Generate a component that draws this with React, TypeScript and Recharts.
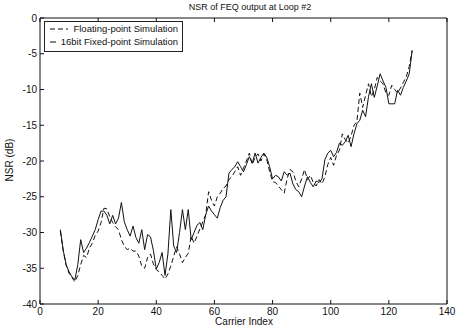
import { LineChart, Line, XAxis, YAxis } from "recharts"

const carrierIdx = [
  7, 8, 9, 10, 11, 12, 13, 14, 15, 16, 17, 18, 19, 20, 21, 22, 23, 24, 25, 26,
  27, 28, 29, 30, 31, 32, 33, 34, 35, 36, 37, 38, 39, 40, 41, 42, 43, 44, 45, 46,
  47, 48, 49, 50, 51, 52, 53, 54, 55, 56, 57, 58, 59, 60, 61, 62, 63, 64, 65, 66,
  67, 68, 69, 70, 71, 72, 73, 74, 75, 76, 77, 78, 79, 80, 81, 82, 83, 84, 85, 86,
  87, 88, 89, 90, 91, 92, 93, 94, 95, 96, 97, 98, 99, 100, 101, 102, 103, 104, 105, 106,
  107, 108, 109, 110, 111, 112, 113, 114, 115, 116, 117, 118, 119, 120, 121, 122, 123, 124, 125, 126,
  127, 128,
]

// 16bit fixed-point (solid)
const fixedNsr = [
  -29.6, -32.5, -34.5, -35.5, -36.2, -36.6, -34.5, -31.0, -32.8, -32.2, -31.4, -30.5, -29.6, -28.2, -27.0, -27.0, -27.6, -28.8, -27.6, -28.8,
  -28.0, -25.8, -28.5, -29.6, -30.5, -29.1, -30.7, -31.5, -29.6, -32.4, -30.3, -30.6, -32.5, -35.1, -34.2, -32.8, -36.0, -33.0, -26.8, -31.9,
  -32.8, -30.0, -26.8, -29.6, -26.8, -31.0, -30.0, -29.0, -28.6, -29.6, -27.5, -26.3, -27.0, -27.5, -28.0, -26.5, -25.5, -25.0, -21.7, -21.2,
  -20.8, -20.1, -20.8, -21.5, -20.5, -19.4, -20.3, -18.9, -20.3, -19.5, -18.9, -19.5, -20.8, -22.5, -22.0, -22.2, -22.8, -21.5, -22.0, -21.7,
  -23.2, -24.0, -24.3, -25.0, -23.5, -22.2, -23.0, -23.6, -22.8, -23.0, -22.5, -19.8, -18.9, -18.5, -19.4, -18.8, -17.5, -17.8, -17.3, -16.4,
  -18.0, -16.2, -14.8, -14.3, -12.9, -13.8, -11.0, -9.2, -11.1, -9.5, -7.8, -8.8, -9.7, -12.0, -12.0, -12.0, -10.1, -10.8, -9.7, -8.8,
  -7.8, -4.6,
]

// floating-point (dashed)
const floatNsr = [
  -29.8, -32.6, -34.6, -35.7, -36.3, -36.9, -36.0, -34.5, -33.2, -33.5, -32.2, -31.5, -30.4, -29.8, -28.6, -26.6, -26.7, -27.8, -28.6, -29.2,
  -29.6, -31.0, -31.9, -32.4, -32.2, -32.6, -32.6, -33.3, -34.7, -35.0, -33.5, -33.0, -34.4, -35.2, -35.5, -36.0, -36.5, -35.8, -34.7, -33.3,
  -32.0, -33.0, -34.2, -33.5, -32.9, -30.5, -31.5, -30.5, -29.5, -28.5, -27.5, -24.3, -25.5, -26.3, -25.0, -24.5, -23.8, -23.5, -22.6, -22.2,
  -21.5, -20.8, -22.0, -21.0, -20.0, -18.9, -20.5, -19.5, -19.0, -20.0, -19.0, -19.8, -21.5, -22.9, -23.0, -23.5, -24.0, -24.5, -22.5, -21.2,
  -21.5, -22.8, -23.6, -22.5, -21.2, -22.6, -22.0, -23.0, -23.5, -22.6, -23.2, -22.2, -20.5, -19.5, -20.6, -19.2, -18.5, -16.2, -17.0, -17.5,
  -16.5, -15.0, -14.5, -10.5, -12.5, -10.8, -9.2, -11.0, -10.0, -8.3, -8.8, -9.2, -10.5, -10.8, -9.4, -10.0, -10.5, -9.8, -9.0, -8.2,
  -6.8, -4.5,
]

const xTicks = [0, 20, 40, 60, 80, 100, 120, 140]
const yTicks = [0, -5, -10, -15, -20, -25, -30, -35, -40]

const seriesNames = ["Floating-point Simulation", "16bit Fixed-point Simulation"]

const data = carrierIdx.map((k, i) => ({
  k,
  floating: floatNsr[i],
  fixed: fixedNsr[i],
}))

const font = "'Liberation Sans', Arial, sans-serif"
const tickStyle = { fontSize: 10, fill: "#111", fontFamily: font }
const textStyle = { fontFamily: font, fontSize: 10, color: "#111" }

function LegendBox() {
  return (
    <div
      style={{
        position: "absolute",
        left: 44,
        top: 21,
        width: 129,
        border: "1px solid #222",
        background: "#fff",
        padding: "0 4px 3px 4px",
        lineHeight: "13px",
        ...textStyle,
        fontSize: 9.5,
      }}
    >
      {seriesNames.map((name, i) => (
        <div key={name} style={{ display: "flex", alignItems: "center" }}>
          <svg width={20} height={8} style={{ marginRight: 5 }}>
            <line
              x1={1}
              y1={4}
              x2={19}
              y2={4}
              stroke="#111"
              strokeWidth={1}
              strokeDasharray={i === 0 ? "5 3" : undefined}
            />
          </svg>
          <span style={{ whiteSpace: "nowrap" }}>{name}</span>
        </div>
      ))}
    </div>
  )
}

export default function App() {
  return (
    <div style={{ position: "absolute", left: 0, top: 0, width: 456, height: 329, background: "#fff" }}>
      <LineChart
        width={456}
        height={329}
        data={data}
        margin={{ top: 17, right: 8, bottom: 0, left: 10 }}
      >
        <XAxis
          dataKey="k"
          type="number"
          domain={[0, 140]}
          ticks={xTicks}
          height={25}
          tickSize={-4}
          tickMargin={8}
          tick={tickStyle}
          stroke="#111"
        />
        <XAxis
          xAxisId="top"
          orientation="top"
          dataKey="k"
          type="number"
          domain={[0, 140]}
          ticks={xTicks}
          height={1}
          tickSize={-4}
          tickFormatter={() => ""}
          stroke="#111"
        />
        <YAxis
          type="number"
          domain={[-40, 0]}
          ticks={yTicks}
          width={30}
          tickSize={-4}
          tickMargin={7}
          tick={tickStyle}
          stroke="#111"
          interval={0}
        />
        <YAxis
          yAxisId="right"
          orientation="right"
          type="number"
          domain={[-40, 0]}
          ticks={yTicks}
          width={1}
          tickSize={-4}
          tickFormatter={() => ""}
          stroke="#111"
        />
        <Line
          dataKey="floating"
          name={seriesNames[0]}
          stroke="#111"
          strokeWidth={1}
          strokeDasharray="5 3"
          dot={false}
          isAnimationActive={false}
        />
        <Line
          dataKey="fixed"
          name={seriesNames[1]}
          stroke="#111"
          strokeWidth={1}
          dot={false}
          isAnimationActive={false}
        />
      </LineChart>
      <div style={{ position: "absolute", top: 2, left: 150, width: 200, textAlign: "center", ...textStyle, fontSize: 9 }}>
        NSR of FEQ output at Loop #2
      </div>
      <div
        style={{
          position: "absolute",
          left: 9,
          top: 160,
          transform: "translate(-50%, -50%) rotate(-90deg)",
          whiteSpace: "nowrap",
          ...textStyle,
        }}
      >
        NSR (dB)
      </div>
      <div style={{ position: "absolute", top: 316, left: 40, width: 408, textAlign: "center", ...textStyle, lineHeight: "12px" }}>
        Carrier Index
      </div>
      <LegendBox />
    </div>
  )
}
